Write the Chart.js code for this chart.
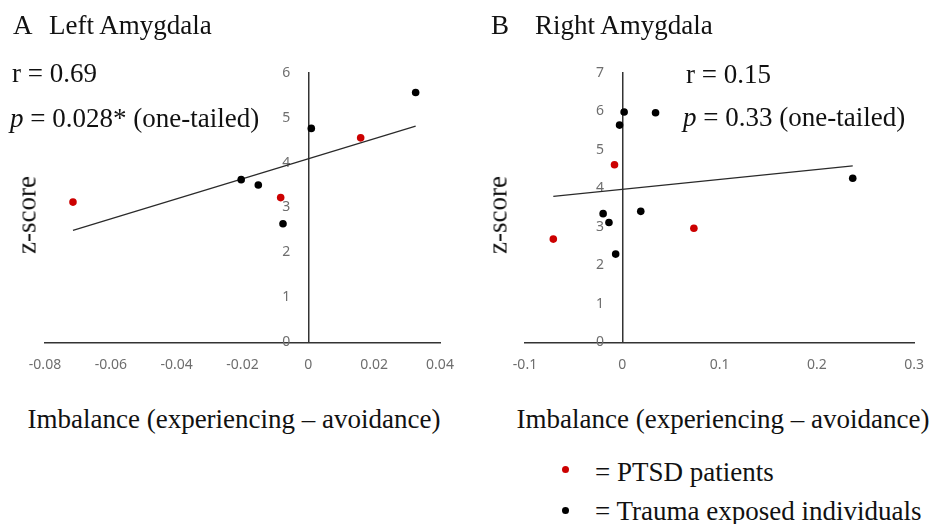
<!DOCTYPE html>
<html>
<head>
<meta charset="utf-8">
<script src="https://cdn.jsdelivr.net/npm/chart.js@4.4.0/dist/chart.umd.min.js"></script>
<style>
  body { margin: 0; background: #fff; }
  #wrap { position: relative; width: 938px; height: 524px; overflow: hidden; }
  canvas { position: absolute; top: 0; }
  .t { position: absolute; font-family: 'Liberation Serif', 'Times New Roman', serif; font-size: 27px;
       line-height: 1; white-space: nowrap; color: #111; }
  .rot { transform: translate(-50%, -50%) rotate(-90deg); }
  .ctr { transform: translateX(-50%); }
  .dot { position: absolute; width: 7px; height: 7px; border-radius: 50%; }
</style>
</head>
<body>
<div id="wrap">
  <canvas id="leftChart" width="470" height="400" style="left:0"></canvas>
  <canvas id="rightChart" width="468" height="400" style="left:470px"></canvas>

  <div class="t" style="left:13px; top:12px">A</div>
  <div class="t" style="left:49px; top:12px">Left Amygdala</div>
  <div class="t" style="left:491px; top:12px">B</div>
  <div class="t" style="left:535px; top:12px">Right Amygdala</div>

  <div class="t" style="left:12px; top:60px">r = 0.69</div>
  <div class="t" style="left:10px; top:105px"><i>p</i> = 0.028* (one-tailed)</div>
  <div class="t" style="left:686px; top:61px">r = 0.15</div>
  <div class="t" style="left:683px; top:104px"><i>p</i> = 0.33 (one-tailed)</div>

  <div class="t rot" style="left:27px; top:215px">z-score</div>
  <div class="t rot" style="left:498px; top:215px">z-score</div>

  <div class="t ctr" style="left:234px; top:406px">Imbalance (experiencing – avoidance)</div>
  <div class="t ctr" style="left:723px; top:406px">Imbalance (experiencing – avoidance)</div>

  <div class="dot" style="left:562px; top:466px; background:#cc0000"></div>
  <div class="t" style="left:595px; top:459px">= PTSD patients</div>
  <div class="dot" style="left:562px; top:507px; background:#000"></div>
  <div class="t" style="left:595px; top:498px">= Trauma exposed individuals</div>
</div>

<script>
// Left amygdala
const leftPtsdX = [-0.0715, -0.0084, 0.0159];
const leftPtsdY = [3.12, 3.22, 4.55];
const leftTraumaX = [-0.0204, -0.0152, -0.0077, 0.0009, 0.0326];
const leftTraumaY = [3.62, 3.50, 2.64, 4.76, 5.56];
const leftTrendX = [-0.0715, 0.0326];
const leftTrendY = [2.49, 4.81];

// Right amygdala
const rightPtsdX = [-0.0709, -0.0080, 0.0736];
const rightPtsdY = [2.68, 4.61, 2.96];
const rightTraumaX = [0.0019, 0.0342, -0.0028, 0.2369, 0.0190, -0.0197, -0.0137, -0.0068];
const rightTraumaY = [5.98, 5.96, 5.64, 4.26, 3.40, 3.34, 3.11, 2.29];
const rightTrendX = [-0.0709, 0.2369];
const rightTrendY = [3.79, 4.58];

const RED = '#cc0000';
const AXIS = '#333333';
const TICK = '#6e6e6e';

function pts(xs, ys) {
    return xs.map((x, i) => ({ x: x, y: ys[i] }));
}

function fmt(v) {
    if (Math.abs(v) < 1e-9) return '0';
    return String(+v.toFixed(2));
}

// y labels sit right on an axis placed at x = 0, so pad them with spaces
function fmtY(v) {
    return String(v) + '     ';
}

function makeChart(id, d, pad) {
    const ctx = document.getElementById(id).getContext('2d');
    return new Chart(ctx, {
        type: 'scatter',
        data: {
            datasets: [{
                label: 'PTSD patients',
                data: pts(d.ptsdX, d.ptsdY),
                backgroundColor: RED,
                borderWidth: 0,
                pointRadius: 3.8
            }, {
                label: 'Trauma exposed individuals',
                data: pts(d.traumaX, d.traumaY),
                backgroundColor: '#000',
                borderWidth: 0,
                pointRadius: 3.8
            }, {
                type: 'line',
                label: 'Trend',
                data: pts(d.trendX, d.trendY),
                borderColor: '#2a2a2a',
                borderWidth: 1.2,
                pointRadius: 0,
                fill: false
            }]
        },
        options: {
            responsive: false,
            animation: false,
            devicePixelRatio: 1,
            layout: { padding: pad },
            plugins: { legend: { display: false }, tooltip: { enabled: false } },
            scales: {
                x: {
                    type: 'linear',
                    position: { y: 0 },
                    min: d.xMin, max: d.xMax,
                    grid: { display: false, drawTicks: false },
                    border: { display: true, color: AXIS, width: 1.5 },
                    ticks: {
                        stepSize: d.xStep, color: TICK, padding: 14,
                        font: { family: "'Noto Sans'", size: 14 },
                        callback: fmt
                    }
                },
                y: {
                    type: 'linear',
                    position: { x: 0 },
                    min: 0, max: d.yMax,
                    grid: { display: false, drawTicks: false },
                    border: { display: true, color: AXIS, width: 1.5 },
                    ticks: {
                        stepSize: 1, color: TICK,
                        font: { family: "'Noto Sans'", size: 14 },
                        callback: fmtY
                    }
                }
            }
        }
    });
}

makeChart('leftChart', {
    ptsdX: leftPtsdX, ptsdY: leftPtsdY,
    traumaX: leftTraumaX, traumaY: leftTraumaY,
    trendX: leftTrendX, trendY: leftTrendY,
    xMin: -0.08, xMax: 0.04, xStep: 0.02, yMax: 6
}, { left: 45, right: 30, top: 72.7, bottom: 57.7 });

makeChart('rightChart', {
    ptsdX: rightPtsdX, ptsdY: rightPtsdY,
    traumaX: rightTraumaX, traumaY: rightTraumaY,
    trendX: rightTrendX, trendY: rightTrendY,
    xMin: -0.1, xMax: 0.3, xStep: 0.1, yMax: 7
}, { left: 55, right: 9.7, top: 72.7, bottom: 57.7 });
</script>
</body>
</html>
